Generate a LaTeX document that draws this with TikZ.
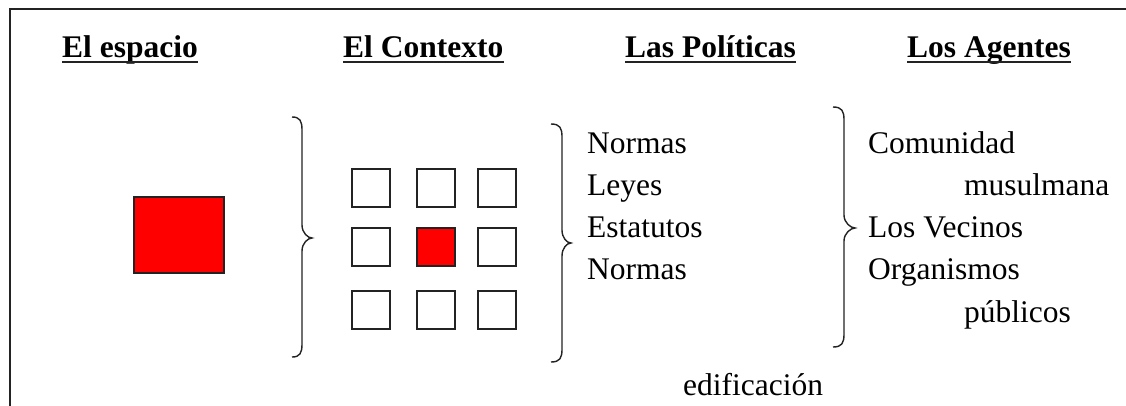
\documentclass[tikz,border=0pt]{standalone}
\usepackage{fontspec}
\setmainfont{Liberation Serif}
\definecolor{boxred}{RGB}{255,0,0}
\definecolor{edge}{RGB}{35,35,35}
\newcommand{\mybrace}[5]{% hook x, line x, tip x, top y, mid y, bottom y via #5
  \draw[bracestyle] (#1,#4) .. controls ({#2-2},#4) and (#2,{#4+4}) .. (#2,{#4+13})
    -- (#2,{#5-13}) .. controls (#2,{#5-5}) and ({#3-4},#5) .. (#3,#5)
    .. controls ({#3-4},#5) and (#2,{#5+5}) .. (#2,{#5+13});}
\newcommand{\mybracelow}[4]{% line x, hook x, mid y, bottom y
  \draw[bracestyle] (#1,{#3+13}) -- (#1,{#4-13}) .. controls (#1,{#4-4}) and ({#1-2},#4) .. (#2,#4);}
\begin{document}
\begin{tikzpicture}[x=1pt,y=-1pt,
  txt/.style={inner sep=0pt,anchor=base west,font=\fontsize{31.5}{38}\selectfont},
  head/.style={txt,font=\fontsize{31.5}{38}\selectfont\bfseries},
  ul/.style={line width=2pt,draw=edge},
  sq/.style={draw=edge,line width=1.5pt,fill=white,minimum width=38pt,minimum height=38pt,inner sep=0pt,anchor=north west},
  redsq/.style={sq,fill=boxred},
  bracestyle/.style={draw=edge,line width=1.4pt},
  frame/.style={draw=edge,line width=2.5pt}]
\useasboundingbox (0,0) rectangle (1126,405);
\fill[white] (0,0) rectangle (1126,405);
\draw[frame] (1126,9) -- (10,9) -- (10,410);
% headings
\node[head] (h1) at (62,57) {El espacio};
\node[head] (h2) at (343,57) {El Contexto};
\node[head] (h3) at (625,57) {Las Políticas};
\node[head] (h4) at (907,57) {Los Agentes};
\foreach \h in {h1,h2,h3,h4}{\draw[ul] ([yshift=-5pt]\h.base west) -- ([yshift=-5pt]\h.base east);}
% big red square
\node[redsq,minimum width=90pt,minimum height=76pt] (big) at (133,196) {};
% grid
\node[sq] (g11) at (351,168) {};
\node[sq] (g12) at (416,168) {};
\node[sq] (g13) at (477,168) {};
\node[sq] (g21) at (351,227) {};
\node[redsq] (g22) at (416,227) {};
\node[sq] (g23) at (477,227) {};
\node[sq] (g31) at (351,290) {};
\node[sq] (g32) at (416,290) {};
\node[sq] (g33) at (477,290) {};
% braces
\mybrace{292}{302}{312}{117}{238}\mybracelow{302}{292}{238}{357}
\mybrace{551}{562}{571}{124}{243}\mybracelow{562}{551}{243}{362}
\mybrace{833}{844}{855}{107}{228}\mybracelow{844}{833}{228}{347}
% politicas
\node[txt] (p1) at (587,153) {Normas};
\node[txt] (p2) at (587,195) {Leyes};
\node[txt] (p3) at (587,237) {Estatutos};
\node[txt] (p4) at (587,279) {Normas};
\node[txt] (ed) at (683,395) {edificación};
% agentes
\node[txt] (a1) at (868,153) {Comunidad};
\node[txt] (a2) at (964,195) {musulmana};
\node[txt] (a3) at (868,237) {Los Vecinos};
\node[txt] (a4) at (868,279) {Organismos};
\node[txt] (a5) at (964,322) {públicos};
\end{tikzpicture}
\end{document}
